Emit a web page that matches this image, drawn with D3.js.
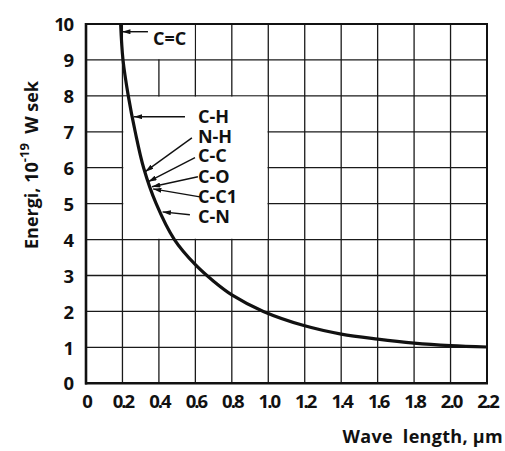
<!DOCTYPE html>
<html>
<head>
<meta charset="utf-8">
<script src="https://cdn.jsdelivr.net/npm/d3@7"></script>
<style>
  html, body { margin: 0; padding: 0; background: #fff; }
  svg text { font-family: "Open Sans", "DejaVu Sans", sans-serif; font-weight: 700; fill: #111; }
</style>
</head>
<body>
<svg id="chart" width="505" height="451"></svg>
<script>
// Wave length (µm) and photon energy (10^-19 W sek) along the curve
const waveLength = [0.19, 0.203, 0.232, 0.27, 0.316, 0.385, 0.485, 0.6,  0.7,  0.8,  0.973, 1.2,  1.4,  1.6,  1.8,  2.0,  2.2];
const energy     = [10.0, 9.0,   8.0,   7.0,  6.0,   5.0,   4.0,   3.3,  2.84, 2.46, 2.0,   1.6,  1.37, 1.23, 1.12, 1.05, 1.01];

const xTickValues = [0, 0.2, 0.4, 0.6, 0.8, 1.0, 1.2, 1.4, 1.6, 1.8, 2.0, 2.2];
const xTickLabels = ["0", "0.2", "0.4", "0.6", "0.8", "1.0", "1.2", "1.4", "1.6", "1.8", "2.0", "2.2"];
const yTickValues = [0, 1, 2, 3, 4, 5, 6, 7, 8, 9, 10];
const yTickLabels = ["0", "1", "2", "3", "4", "5", "6", "7", "8", "9", "10"];

// Bond names and the point on the curve each arrow marks
const bonds    = ["C=C", "C-H", "N-H", "C-C", "C-O", "C-C1", "C-N"];
const bondWave = [0.198, 0.262, 0.325, 0.342, 0.362, 0.368, 0.42];
const bondE    = [9.785, 7.42, 5.89, 5.61, 5.47, 5.41, 4.77];

// Annotation layout (data units): arrow tails and label anchors
const labelLayout = [
  { tail: [0.340, 9.785], text: [0.3675, 9.42] },
  { tail: [0.543, 7.42], text: [0.614, 7.25] },
  { tail: [0.581, 6.83], text: [0.614, 6.70] },
  { tail: [0.598, 6.28], text: [0.614, 6.17] },
  { tail: [0.614, 5.75], text: [0.614, 5.58] },
  { tail: [0.625, 5.19], text: [0.614, 5.02] },
  { tail: [0.570, 4.69], text: [0.614, 4.47] }
];
// Blank panels behind the annotations (data units)
const clearBoxes = [
  { x0: 0.2, x1: 1.0, y0: 4, y1: 8 },
  { x0: 0.2, x1: 0.6, y0: 9, y1: 10 }
];

const svg = d3.select("#chart");
const plotLeft = 86, plotRight = 487, plotTop = 24, plotBottom = 383.3;
const x = d3.scaleLinear().domain([0, 2.2]).range([plotLeft, plotRight]);
const y = d3.scaleLinear().domain([0, 10]).range([plotBottom, plotTop]);

// Grid
const grid = svg.append("g").attr("stroke", "#1a1a1a").attr("stroke-width", 1.3);
grid.selectAll("line.v").data(xTickValues).join("line").attr("class", "v")
  .attr("x1", d => x(d)).attr("x2", d => x(d))
  .attr("y1", y(0)).attr("y2", y(10));
grid.selectAll("line.h").data(yTickValues).join("line").attr("class", "h")
  .attr("y1", d => y(d)).attr("y2", d => y(d))
  .attr("x1", x(0)).attr("x2", x(2.2));

// Clear the label panels; their edges stay
svg.append("g").selectAll("rect").data(clearBoxes).join("rect")
  .attr("x", d => x(d.x0) + 0.8).attr("y", d => y(d.y1) + 0.8)
  .attr("width", d => x(d.x1) - x(d.x0) - 1.6)
  .attr("height", d => y(d.y0) - y(d.y1) - 1.6)
  .attr("fill", "#fff");

// Frame
const frame = svg.append("g").attr("stroke", "#111").attr("fill", "none");
frame.append("line").attr("x1", x(0)).attr("x2", x(0)).attr("y1", y(10) - 1).attr("y2", y(0) + 1.2).attr("stroke-width", 2.6);
frame.append("line").attr("x1", x(0) - 1).attr("x2", x(2.2) + 1).attr("y1", y(0)).attr("y2", y(0)).attr("stroke-width", 2.6);
frame.append("line").attr("x1", x(0)).attr("x2", x(2.2) + 1).attr("y1", y(10)).attr("y2", y(10)).attr("stroke-width", 2);
frame.append("line").attr("x1", x(2.2)).attr("x2", x(2.2)).attr("y1", y(10)).attr("y2", y(0)).attr("stroke-width", 2);

// Axes tick labels
const labelFont = "'Open Sans', 'DejaVu Sans', sans-serif";
const xAxis = d3.axisBottom(x).tickValues(xTickValues).tickSize(0).tickPadding(0)
  .tickFormat((d, i) => xTickLabels[i]);
const gx = svg.append("g").attr("transform", `translate(0,${y(0) + 25})`).call(xAxis);
gx.select(".domain").remove();
gx.selectAll("text").attr("font-size", 18.5).attr("dy", 0)
  .style("font-family", labelFont).style("font-weight", 700).style("letter-spacing", "-2px")
  .attr("fill", "#111");

const yAxis = d3.axisLeft(y).tickValues(yTickValues).tickSize(0).tickPadding(13)
  .tickFormat((d, i) => yTickLabels[i]);
const gy = svg.append("g").attr("transform", `translate(${x(0)},0)`).call(yAxis);
gy.select(".domain").remove();
gy.selectAll("text").attr("font-size", 18.5).attr("dy", "0.36em")
  .style("font-family", labelFont).style("font-weight", 700).style("letter-spacing", "-1.2px")
  .attr("fill", "#111");

// Energy curve
const line = d3.line().x(d => x(d[0])).y(d => y(d[1])).curve(d3.curveCatmullRom.alpha(0.5));
svg.append("path")
  .datum(waveLength.map((w, i) => [w, energy[i]]))
  .attr("d", line).attr("fill", "none").attr("stroke", "#111").attr("stroke-width", 3.2);

// Arrowhead
svg.append("defs").append("marker")
  .attr("id", "head").attr("viewBox", "0 0 10 6").attr("refX", 10).attr("refY", 3)
  .attr("markerWidth", 8.5).attr("markerHeight", 5).attr("markerUnits", "userSpaceOnUse")
  .attr("orient", "auto")
  .append("path").attr("d", "M0,0 L10,3 L0,6 Z").attr("fill", "#111");

const ann = svg.append("g");
bonds.forEach((name, i) => {
  const L = labelLayout[i];
  ann.append("line")
    .attr("x1", x(L.tail[0])).attr("y1", y(L.tail[1]))
    .attr("x2", x(bondWave[i])).attr("y2", y(bondE[i]))
    .attr("stroke", "#111").attr("stroke-width", 1.4)
    .attr("marker-end", "url(#head)");
  ann.append("text")
    .attr("x", x(L.text[0])).attr("y", y(L.text[1]))
    .attr("font-size", 18).text(name);
});

// Axis titles
svg.append("text").attr("x", 503).attr("y", 443).attr("text-anchor", "end")
  .attr("font-size", 18).style("letter-spacing", "0.3px")
  .attr("xml:space", "preserve").text("Wave  length, \u00b5m");

const yt = svg.append("text")
  .attr("transform", "translate(38,165) rotate(-90)")
  .attr("text-anchor", "middle").attr("font-size", 18)
  .attr("xml:space", "preserve");
yt.append("tspan").text("Energi, 10");
yt.append("tspan").attr("font-size", 13).attr("dy", -9).text("-19");
yt.append("tspan").attr("dy", 9).text("  W sek");
</script>
</body>
</html>
